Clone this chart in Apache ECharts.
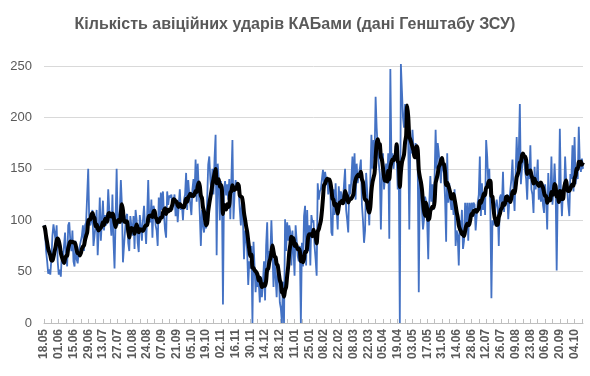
<!DOCTYPE html>
<html>
<head>
<meta charset="utf-8">
<script src="https://cdn.jsdelivr.net/npm/echarts@6/dist/echarts.min.js"></script>
<style>
  html, body { margin: 0; padding: 0; background: #fff; }
  #chart { width: 590px; height: 376px; }
</style>
</head>
<body>
<div id="chart"></div>
<script>
const title = 'Кількість авіційних ударів КАБами (дані Генштабу ЗСУ)'
const startDate = '2024-05-18'

// щоденна кількість ударів, з 18.05.2024
const strikes = [
  95, 88, 70, 60, 48, 52, 47, 62, 85, 96,
  97, 80, 95, 60, 47, 52, 45, 70, 60, 75,
  88, 65, 55, 95, 98, 80, 70, 90, 60, 55,
  80, 62, 58, 70, 75, 75, 85, 95, 70, 95,
  98, 98, 150, 98, 95, 100, 110, 75, 85, 95,
  110, 66, 90, 122, 80, 100, 119, 90, 105, 95,
  100, 130, 110, 100, 85, 125, 80, 53, 100, 150,
  95, 100, 110, 139, 115, 59, 75, 90, 104, 106,
  78, 70, 104, 95, 85, 104, 72, 110, 100, 78,
  69, 105, 95, 80, 100, 114, 95, 77, 105, 139,
  100, 98, 120, 83, 114, 110, 95, 90, 75, 122,
  100, 127, 110, 128, 105, 90, 83, 128, 115, 124,
  122, 125, 110, 118, 125, 104, 120, 98, 115, 130,
  110, 115, 100, 120, 125, 146, 110, 139, 125, 115,
  105, 130, 140, 125, 159, 118, 155, 130, 105, 75,
  110, 96, 88, 100, 92, 120, 154, 162, 140, 128,
  150, 125, 160, 183, 66, 155, 140, 100, 138, 125,
  18, 130, 138, 124, 135, 120, 140, 101, 140, 178,
  101, 125, 139, 130, 135, 128, 110, 95, 120, 100,
  62, 90, 82, 70, 37, 60, 53, 75, 0, 79,
  55, 30, 50, 35, 40, 20, 45, 25, 40, 60,
  22, 75, 98, 50, 70, 65, 100, 70, 35, 62,
  45, 25, 55, 50, 20, 14, 0, 40, 0, 101,
  70, 98, 80, 95, 88, 56, 90, 70, 46, 95,
  80, 65, 60, 75, 0, 78, 55, 104, 114, 56,
  110, 70, 95, 56, 105, 98, 100, 75, 62, 46,
  136, 120, 128, 130, 140, 149, 135, 147, 140, 142,
  125, 140, 128, 88, 85, 130, 105, 136, 110, 91,
  133, 115, 128, 120, 118, 135, 150, 110, 100, 88,
  135, 125, 140, 162, 128, 165, 120, 155, 136, 145,
  150, 159, 115, 100, 78, 90, 146, 128, 115, 95,
  140, 183, 150, 178, 160, 220, 190, 170, 155, 145,
  91, 140, 165, 130, 142, 155, 140, 165, 82, 247,
  160, 165, 150, 162, 172, 162, 130, 150, 0, 252,
  226, 200, 190, 213, 195, 205, 175, 91, 180, 165,
  188, 170, 160, 175, 165, 155, 30, 140, 136, 110,
  91, 101, 123, 118, 98, 62, 118, 143, 118, 135,
  110, 140, 188, 150, 175, 165, 150, 136, 160, 150,
  145, 120, 79, 165, 117, 136, 120, 110, 125, 105,
  130, 75, 90, 85, 56, 100, 90, 110, 72, 80,
  117, 90, 117, 80, 117, 104, 117, 110, 117, 115,
  90, 104, 117, 125, 162, 104, 136, 110, 128, 105,
  178, 162, 136, 150, 110, 24, 100, 95, 105, 114,
  120, 112, 75, 122, 125, 115, 147, 108, 124, 118,
  125, 101, 118, 130, 140, 159, 128, 109, 145, 181,
  150, 165, 213, 135, 150, 160, 162, 148, 140, 120,
  155, 140, 173, 130, 125, 107, 152, 130, 140, 159,
  120, 138, 118, 132, 115, 107, 135, 120, 91, 146,
  120, 118, 162, 115, 130, 155, 130, 51, 125, 118,
  189, 128, 104, 130, 120, 162, 138, 130, 115, 104,
  145, 140, 173, 128, 181, 135, 150, 140, 191, 155,
  147, 160, 150
]

const yTicks = [0, 50, 100, 150, 200, 250]

// дати по днях
const days = []
const d0 = new Date(startDate + 'T00:00:00Z')
for (let i = 0; i < strikes.length; i++) {
  const d = new Date(d0.getTime() + i * 86400000)
  const dd = String(d.getUTCDate()).padStart(2, '0')
  const mm = String(d.getUTCMonth() + 1).padStart(2, '0')
  days.push(dd + '.' + mm)
}

// ковзне середнє за 7 днів
const avg7 = strikes.map((v, i) => {
  const win = strikes.slice(Math.max(0, i - 6), i + 1)
  return +(win.reduce((a, b) => a + b, 0) / win.length).toFixed(1)
})

const chart = echarts.init(document.getElementById('chart'))
chart.setOption({
  animation: false,
  title: {
    text: title,
    left: 'center',
    top: 12,
    textStyle: { color: '#595959', fontSize: 16, fontWeight: 'bold', fontFamily: 'Liberation Sans' },
  },
  grid: { left: 44, right: 7, top: 66, bottom: 53 },
  xAxis: {
    type: 'category',
    data: days,
    boundaryGap: false,
    axisLine: { lineStyle: { color: '#bfbfbf', width: 1 } },
    axisTick: { interval: 6, inside: true, length: 4, lineStyle: { color: '#bfbfbf' } },
    axisLabel: {
      interval: 13,
      rotate: 90,
      color: '#595959',
      fontSize: 12,
      fontWeight: 'bold',
      fontFamily: 'Liberation Sans',
      margin: 6,
    },
    splitLine: { show: false },
  },
  yAxis: {
    type: 'value',
    min: yTicks[0],
    max: yTicks[yTicks.length - 1],
    interval: 50,
    axisLine: { show: false },
    axisTick: { show: false },
    axisLabel: { color: '#595959', fontSize: 13, fontFamily: 'Liberation Sans', margin: 12 },
    splitLine: { lineStyle: { color: '#d9d9d9', width: 1 } },
  },
  series: [
    {
      type: 'line',
      data: strikes,
      symbol: 'none',
      clip: false,
      lineStyle: { color: '#4472c4', width: 1.8 },
    },
    {
      type: 'line',
      data: avg7,
      symbol: 'none',
      clip: false,
      smooth: 0.3,
      lineStyle: { color: '#000', width: 4 },
    },
  ],
})
</script>
</body>
</html>
